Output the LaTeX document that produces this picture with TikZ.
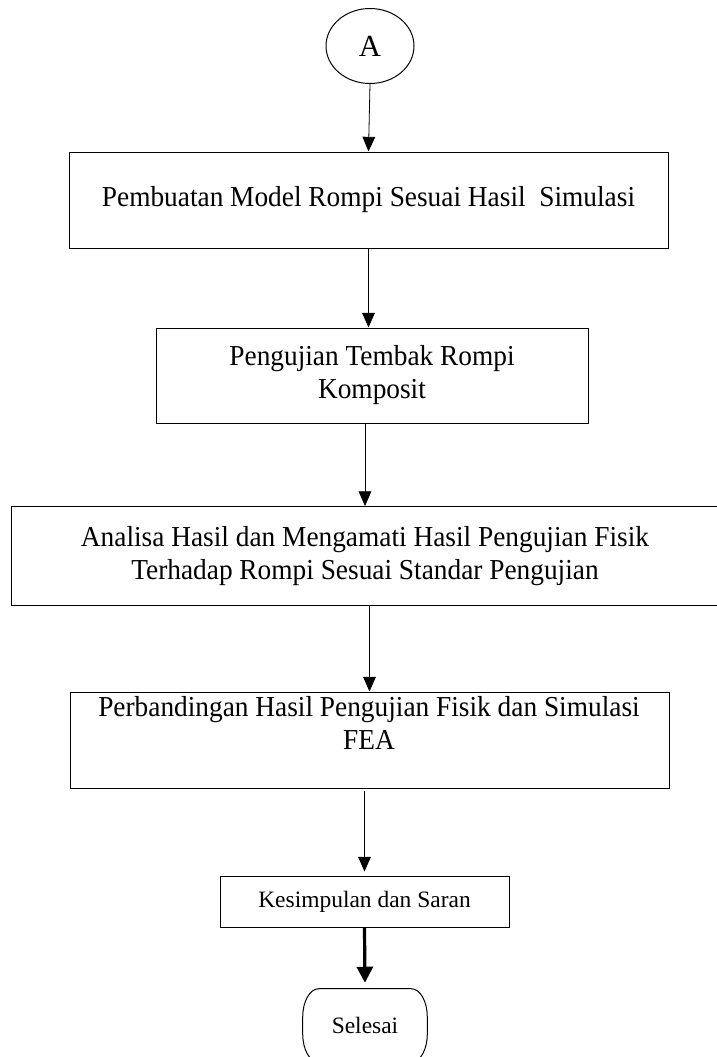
\documentclass[tikz,border=0pt]{standalone}
\usepackage{fontspec}
\setmainfont{Liberation Serif}
\newfontfamily\narrowserif[FakeStretch=0.945]{Liberation Serif}
\usetikzlibrary{arrows.meta,calc,shapes.geometric}
\begin{document}
\begin{tikzpicture}[x=0.75pt,y=-0.75pt,
  box/.style={draw,line width=0.75pt,inner sep=0pt,align=center,
    font=\narrowserif\fontsize{21.7pt}{24.75pt}\selectfont},
  txt/.style={inner sep=0pt,align=center,font=\narrowserif\fontsize{21.7pt}{24.75pt}\selectfont},
  smallbox/.style={draw,line width=0.75pt,inner sep=0pt,align=center,
    font=\fontsize{17.6pt}{21pt}\selectfont},
  arr/.style={-{Triangle[width=9.5pt,length=11pt]},line width=0.6pt},
  thickarr/.style={-{Triangle[width=12pt,length=12pt]},line width=2.4pt}]
\useasboundingbox (0,0) rectangle (717,1057);
\node[draw,ellipse,line width=0.75pt,inner sep=0pt,minimum width=66pt,minimum height=56.25pt,
  font=\fontsize{23pt}{27pt}\selectfont] (A) at (370,46) {A};
\node[box,minimum width=449.25pt,minimum height=72pt] (b1) at (368.5,200)
  {Pembuatan Model Rompi Sesuai Hasil~ Simulasi};
\node[box,minimum width=324pt,minimum height=71.25pt] (b2) at (372,375.5)
  {Pengujian Tembak Rompi\\Komposit};
\node[box,minimum width=531pt,minimum height=74.25pt] (b3) at (365,556)
  {Analisa Hasil dan Mengamati Hasil Pengujian Fisik\\Terhadap Rompi Sesuai Standar Pengujian};
\node[box,minimum width=449.25pt,minimum height=72pt] (b4) at (369.5,740) {};
\node[txt,anchor=north] (b4t) at (369,696)
  {Perbandingan Hasil Pengujian Fisik dan Simulasi\\FEA};
\node[smallbox,minimum width=216.75pt,minimum height=38.25pt] (b5) at (364.5,901.5)
  {Kesimpulan dan Saran};
\node[inner sep=0pt,minimum width=93pt,minimum height=54.75pt,
  font=\fontsize{17.6pt}{21pt}\selectfont] (E) at (365,1025.5) {Selesai};
\draw[line width=0.75pt]
  ($(E.north west)+(16,0)$) -- ($(E.north east)+(-16,0)$)
  arc[start angle=90,end angle=0,x radius=12pt,y radius=21pt]
  -- ($(E.south east)+(0,-28)$)
  arc[start angle=0,end angle=-90,x radius=12pt,y radius=21pt]
  -- ($(E.south west)+(16,0)$)
  arc[start angle=270,end angle=180,x radius=12pt,y radius=21pt]
  -- ($(E.north west)+(0,28)$)
  arc[start angle=180,end angle=90,x radius=12pt,y radius=21pt] -- cycle;
\draw[arr] (A.south) -- (b1.north);
\draw[arr] (b1.south) -- (b1.south |- b2.north);
\draw[arr] (b2.south -| b3.north) -- (b3.north);
\draw[arr] (b3.south -| b4.north) -- (b4.north);
\draw[arr,shorten <=2pt,shorten >=3pt] (b4.south -| b5.north) -- (b5.north);
\draw[thickarr,shorten >=4.5pt] (b5.south) -- (E.north);
\end{tikzpicture}
\end{document}
